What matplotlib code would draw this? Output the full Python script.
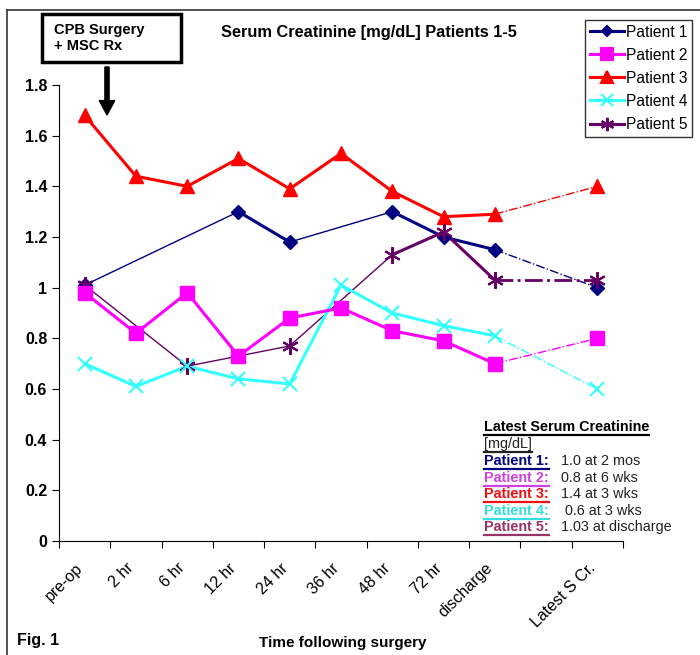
import numpy as np
import matplotlib.pyplot as plt
import matplotlib.transforms as mtransforms
from matplotlib.lines import Line2D

plt.rcParams['font.family'] = ['Liberation Sans', 'DejaVu Sans']

categories = ['pre-op', '2 hr', '6 hr', '12 hr', '24 hr', '36 hr', '48 hr', '72 hr',
              'discharge', '', 'Latest S Cr.']
yticks = [0, 0.2, 0.4, 0.6, 0.8, 1, 1.2, 1.4, 1.6, 1.8]

# values pre-op .. discharge (None = not measured), then latest value
p1 = [1.01, None, None, 1.30, 1.18, None, 1.30, 1.20, 1.15]
p2 = [0.98, 0.82, 0.98, 0.73, 0.88, 0.92, 0.83, 0.79, 0.70]
p3 = [1.68, 1.44, 1.40, 1.51, 1.39, 1.53, 1.38, 1.28, 1.29]
p4 = [0.70, 0.61, 0.69, 0.64, 0.62, 1.01, 0.90, 0.85, 0.81]
p5 = [1.01, None, 0.69, None, 0.77, None, 1.13, 1.22, 1.03]
latest = [1.00, 0.80, 1.40, 0.60, 1.03]

names = ['Patient 1', 'Patient 2', 'Patient 3', 'Patient 4', 'Patient 5']
colors = ['#000080', '#ff00ff', '#ff0000', '#33ffff', '#660066']
markers = ['D', 's', '^', 'x', (6, 2, 0)]
msizes = [7, 10, 10, 10, 12]
notes = ['1.0 at 2 mos', '0.8 at 6 wks', '1.4 at 3 wks', ' 0.6 at 3 wks', '1.03 at discharge']
note_colors = ['#000080', '#cc44dd', '#ee1111', '#33dddd', '#993366']

fig = plt.figure(figsize=(7, 6.55), dpi=100)
ax = fig.add_axes([59 / 700, 1 - 541 / 655, 564 / 700, 456 / 655])

latest_idx = len(categories) - 1
order = [2, 0, 4, 3, 1]
for k in order:
    vals = [p1, p2, p3, p4, p5][k]
    pts = [(i, v) for i, v in enumerate(vals) if v is not None]
    for (i0, v0), (i1, v1) in zip(pts[:-1], pts[1:]):
        lw = 2.2 if i1 - i0 == 1 else 1.0
        ax.plot([i0, i1], [v0, v1], color=colors[k], lw=lw, solid_capstyle='round', zorder=2)
    ax.plot([pts[-1][0], latest_idx], [pts[-1][1], latest[k]], color=colors[k],
            lw=2.0 if k == 4 else 1.0, ls='-.', zorder=2)
    xs = [p[0] for p in pts] + [latest_idx]
    ys = [p[1] for p in pts] + [latest[k]]
    ax.plot(xs, ys, ls='none', marker=markers[k], ms=msizes[k], color=colors[k],
            mew=1.5 if k in (3, 4) else 1, zorder=3)

ax.set_xlim(-0.5, len(categories) - 0.5)
ax.set_ylim(0, 1.8)
ax.set_yticks(yticks)
ax.set_yticklabels([f'{t:g}' for t in yticks], fontsize=11.5, fontweight='bold')
ax.set_xticks(np.arange(len(categories) + 1) - 0.5)
ax.set_xticklabels([])
ax.set_xticks(np.arange(len(categories)), minor=True)
ax.set_xticklabels(categories, minor=True, rotation=45, ha='right',
                   rotation_mode='anchor', fontsize=11.5)
ax.tick_params(axis='x', which='minor', length=0, pad=14)
ax.tick_params(axis='x', which='major', length=5, direction='out')
ax.tick_params(axis='y', length=5, direction='out')
shift = mtransforms.ScaledTranslation(-7 / 72, 0, fig.dpi_scale_trans)
for lab in ax.get_xticklabels(minor=True):
    lab.set_transform(lab.get_transform() + shift)
for s in ['top', 'right']:
    ax.spines[s].set_visible(False)

handles = [Line2D([], [], color=colors[k], lw=2.2, marker=markers[k],
                  ms=msizes[k] * 0.8, mew=1.5) for k in range(5)]
leg = fig.legend(handles, names, loc='upper left', bbox_to_anchor=(585 / 700, 1 - 20 / 655),
                 frameon=True, fancybox=False, edgecolor='black', fontsize=11.2,
                 handlelength=2.2, handletextpad=0.15, borderpad=0.3, labelspacing=0.52,
                 borderaxespad=0)
leg.get_frame().set_linewidth(1)

fig.text(369 / 700, 1 - 33 / 655, 'Serum Creatinine [mg/dL] Patients 1-5', ha='center',
         va='center', fontsize=11.8, fontweight='bold')
fig.patches.append(plt.Rectangle((42 / 700, 1 - 62 / 655), 139 / 700, 48 / 655,
                                 transform=fig.transFigure, fill=False, lw=2.5, ec='black'))
fig.text(54 / 700, 1 - 38 / 655, 'CPB Surgery\n+ MSC Rx', ha='left', va='center',
         fontsize=10.5, fontweight='bold', linespacing=1.15)
fig.patches.append(plt.matplotlib.patches.FancyArrow(
    107 / 700, 1 - 67 / 655, 0, -48 / 655, width=0.006, head_width=0.022,
    head_length=0.022, length_includes_head=True, color='black', transform=fig.transFigure))

fig.text(17 / 700, 1 - 640 / 655, 'Fig. 1', ha='left', va='center', fontsize=11.5,
         fontweight='bold')
fig.text(343 / 700, 1 - 643 / 655, 'Time following surgery', ha='center', va='center',
         fontsize=11, fontweight='bold')

# frame edges of the cropped figure
fig.add_artist(Line2D([7 / 700, 7 / 700], [0, 1 - 10 / 655], color='#333333', lw=1.2,
                      transform=fig.transFigure))
fig.add_artist(Line2D([7 / 700, 1], [1 - 10 / 655, 1 - 10 / 655], color='#333333', lw=1.2,
                      transform=fig.transFigure))

# latest value box
texts = []
x0 = 484 / 700
texts.append(fig.text(x0, 1 - 427 / 655, 'Latest Serum Creatinine', fontsize=10.4,
                      fontweight='bold', va='center'))
texts.append(fig.text(x0, 1 - 444 / 655, '[mg/dL]', fontsize=10.4, va='center', color='#222222'))
row_y = [461, 478, 494, 511, 527]
for k in range(5):
    texts.append(fig.text(x0, 1 - row_y[k] / 655, f'Patient {k + 1}:', fontsize=10.4,
                          fontweight='bold', va='center', color=note_colors[k]))
    fig.text(561 / 700, 1 - row_y[k] / 655, notes[k], fontsize=10.4, va='center', color='#222222')

fig.canvas.draw()
r = fig.canvas.get_renderer()
for t in texts:
    bb = t.get_window_extent(r)
    y = (bb.y0 - 1) / fig.bbox.height
    fig.add_artist(Line2D([bb.x0 / fig.bbox.width, bb.x1 / fig.bbox.width], [y, y],
                          color=t.get_color(), lw=1.6, transform=fig.transFigure))

fig.savefig('out.png', dpi=100, facecolor='white')
